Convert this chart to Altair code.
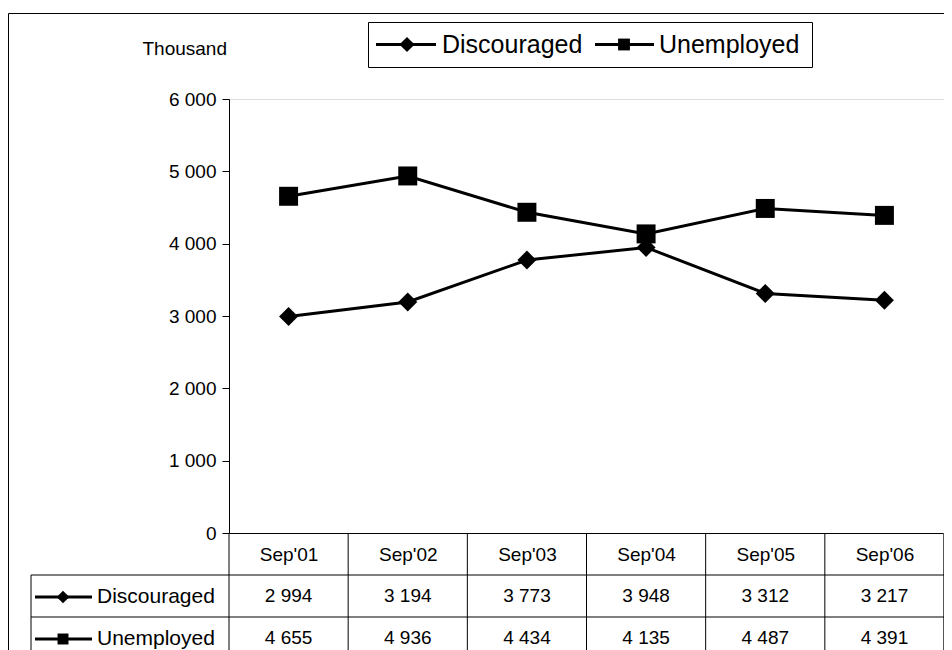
import altair as alt
import pandas as pd

# ---- data ----
months = ["Sep'01", "Sep'02", "Sep'03", "Sep'04", "Sep'05", "Sep'06"]
discouraged = [2994, 3194, 3773, 3948, 3312, 3217]
unemployed = [4655, 4936, 4434, 4135, 4487, 4391]
series_names = ["Discouraged", "Unemployed"]
series_shapes = ["diamond", "square"]
y_ticks = [0, 1000, 2000, 3000, 4000, 5000, 6000]
y_title = "Thousand"

rows = []
for s, vals in zip(series_names, [discouraged, unemployed]):
    for m, v in zip(months, vals):
        rows.append({"month": m, "series": s, "value": v})
df = pd.DataFrame(rows)
df_months = pd.DataFrame({"month": months})
one = pd.DataFrame({"k": [0]})

# ---- layout (plot area in px) ----
W, H = 715, 434
PAD_L, PAD_T, PAD_R = 221, 91, 0
PAD_B = 642 - PAD_T - H
BOTTOM = H + PAD_B
FONT = "Liberation Sans"
ROW1 = H + 42
ROW2 = H + 84
LEFTCOL = -198

fmt = "replace(format(datum.value, ','), ',', ' ')"

x_enc = alt.X(
    "month:N", sort=months, title=None,
    scale=alt.Scale(type="point", padding=0.5, domain=months),
    axis=alt.Axis(ticks=False, tickSize=0, domainColor="black", domainWidth=1,
                  labelFontSize=19, labelFont=FONT, labelColor="black",
                  labelPadding=21, labelBaseline="middle", labelAngle=0, grid=False),
)
y_enc = alt.Y(
    "value:Q",
    scale=alt.Scale(domain=[0, 6000], nice=False),
    axis=alt.Axis(values=y_ticks, labelExpr=fmt, tickSize=7, tickColor="black",
                  domainColor="black", domainWidth=1, labelFontSize=19, labelFont=FONT,
                  labelColor="black", labelPadding=6, grid=False,
                  title=y_title, titleAngle=0, titleAlign="left", titleBaseline="middle",
                  titleX=-87, titleY=-51, titleFontSize=19, titleFont=FONT,
                  titleFontWeight="normal", titleColor="black"),
)

lines = alt.Chart(df).mark_line(color="black", strokeWidth=3).encode(
    x=x_enc, y=y_enc, detail="series:N")
points = alt.Chart(df).mark_point(filled=True, color="black", opacity=1, size=360).encode(
    x=x_enc, y=y_enc,
    shape=alt.Shape("series:N", scale=alt.Scale(domain=series_names, range=series_shapes), legend=None))

def hrule(y, x1, x2, color="black", w=1):
    return alt.Chart(one).mark_rule(color=color, strokeWidth=w).encode(
        x=alt.value(x1), x2=alt.value(x2), y=alt.value(y))

def vrule(x, y1, y2, color="black", w=1):
    return alt.Chart(one).mark_rule(color=color, strokeWidth=w).encode(
        x=alt.value(x), y=alt.value(y1), y2=alt.value(y2))

def label(txt, x, y, size, align="left"):
    return alt.Chart(one).mark_text(text=txt, font=FONT, fontSize=size, color="black",
                                    align=align, baseline="middle").encode(
        x=alt.value(x), y=alt.value(y))

def symbol(shape, x, y, size):
    return alt.Chart(one).mark_point(shape=shape, filled=True, color="black", opacity=1,
                                     size=size).encode(x=alt.value(x), y=alt.value(y))

# table grid
col_rules = alt.Chart(df_months).mark_rule(color="black", strokeWidth=1, xOffset=-W / 12).encode(
    x=x_enc, y=alt.value(H), y2=alt.value(BOTTOM))
table = [
    col_rules,
    vrule(W - 0.5, H, BOTTOM, color="#555555"),
    vrule(LEFTCOL, ROW1, BOTTOM),
    hrule(ROW1, LEFTCOL, W),
    hrule(ROW2, LEFTCOL, W),
]

# table values
value_layers = []
for s, ry in zip(series_names, [ROW1 + 21, ROW2 + 21]):
    value_layers.append(
        alt.Chart(df).transform_filter(alt.datum.series == s)
        .transform_calculate(lbl=fmt)
        .mark_text(font=FONT, fontSize=19, color="black", align="center", baseline="middle")
        .encode(x=x_enc, y=alt.value(ry), text="lbl:N"))

# row headers with symbols
row_heads = []
for s, shp, ry, sz in zip(series_names, series_shapes, [ROW1 + 22, ROW2 + 22], [160, 120]):
    row_heads += [hrule(ry, -194, -137, w=3), symbol(shp, -166, ry, sz), label(s, -132, ry, 21)]

# legend box
LY = -54.5
legend = [
    alt.Chart(one).mark_rect(fill="white", stroke="black", strokeWidth=1).encode(
        x=alt.value(139.5), x2=alt.value(583.5), y=alt.value(-76.5), y2=alt.value(-31.5)),
    hrule(LY, 147, 207, w=3), symbol(series_shapes[0], 178, LY, 230), label(series_names[0], 213, LY, 25),
    hrule(LY, 366, 425, w=3), symbol(series_shapes[1], 395, LY, 140), label(series_names[1], 430, LY, 25),
]

# outer frame (top and left edges visible)
frame = [hrule(-85.5, -220.5, W + PAD_R), vrule(-220.5, -85.5, BOTTOM)]

chart = alt.layer(*frame, *table, lines, points, *value_layers, *row_heads, *legend).properties(
    width=W, height=H,
    autosize=alt.AutoSizeParams(type="none"),
    padding={"left": PAD_L, "top": PAD_T, "right": PAD_R, "bottom": PAD_B},
).configure_view(stroke="#8c8c8c", strokeWidth=1.5).configure(background="white")

chart.save("out.html", embed_options={"renderer": "svg", "actions": False})
